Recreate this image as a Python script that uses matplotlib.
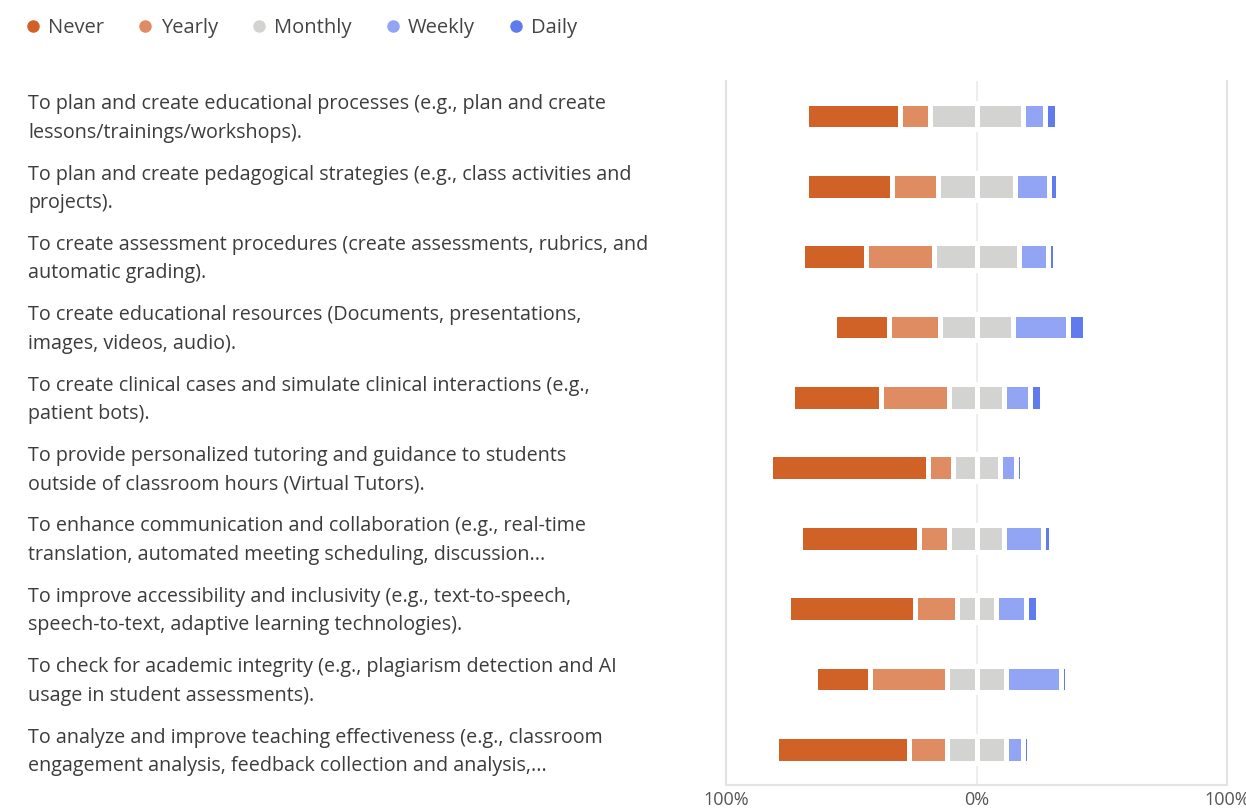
import matplotlib
matplotlib.use("Agg")
import matplotlib.pyplot as plt
from matplotlib.lines import Line2D
from matplotlib.transforms import blended_transform_factory, ScaledTranslation
import numpy as np

plt.rcParams['font.family'] = ['Open Sans', 'DejaVu Sans']

# questions (already wrapped as in the original)
questions = [
    "To plan and create educational processes (e.g., plan and create\nlessons/trainings/workshops).",
    "To plan and create pedagogical strategies (e.g., class activities and\nprojects).",
    "To create assessment procedures (create assessments, rubrics, and\nautomatic grading).",
    "To create educational resources (Documents, presentations,\nimages, videos, audio).",
    "To create clinical cases and simulate clinical interactions (e.g.,\npatient bots).",
    "To provide personalized tutoring and guidance to students\noutside of classroom hours (Virtual Tutors).",
    "To enhance communication and collaboration (e.g., real-time\ntranslation, automated meeting scheduling, discussion...",
    "To improve accessibility and inclusivity (e.g., text-to-speech,\nspeech-to-text, adaptive learning technologies).",
    "To check for academic integrity (e.g., plagiarism detection and AI\nusage in student assessments).",
    "To analyze and improve teaching effectiveness (e.g., classroom\nengagement analysis, feedback collection and analysis,...",
]

# percentages
never   = np.array([37.3, 34.1, 25.4, 22.0, 35.6, 62.8, 47.7, 50.7, 21.9, 52.8])
yearly  = np.array([12.0, 18.5, 27.1, 20.2, 27.0, 10.2, 11.7, 16.9, 30.5, 15.2])
monthly = np.array([37.4, 30.7, 34.1, 29.1, 22.2, 18.7, 22.2, 15.4, 23.8, 23.8])
weekly  = np.array([8.6, 13.7, 11.5, 22.0, 10.2, 6.6, 15.4, 12.1, 21.9, 6.6])
daily   = np.array([5.0, 3.5, 2.7, 6.6, 4.8, 2.4, 3.2, 4.7, 2.5, 2.6])

noms = ["Never", "Yearly", "Monthly", "Weekly", "Daily"]
couleurs = ["#d06228", "#e08c62", "#d3d3d1", "#92a5f5", "#5f7bee"]

W, H = 1246, 809
fig = plt.figure(figsize=(W / 100, H / 100), dpi=100)
ax = fig.add_axes([726 / W, 1 - 784.5 / H, (1227 - 726) / W, (784.5 - 80.7) / H])

y = np.arange(len(questions))
h = 0.38
kw = dict(height=h, edgecolor="white", linewidth=3.6, zorder=3)

# diverging stack : monthly split in two halves around 0
debut = -(never + yearly + monthly / 2)
ax.barh(y, never, left=debut, color=couleurs[0], **kw)
ax.barh(y, yearly, left=debut + never, color=couleurs[1], **kw)
ax.barh(y, monthly / 2, left=-monthly / 2, color=couleurs[2], **kw)
ax.barh(y, monthly / 2, left=0, color=couleurs[2], **kw)
ax.barh(y, weekly, left=monthly / 2, color=couleurs[3], **kw)
ax.barh(y, daily, left=monthly / 2 + weekly, color=couleurs[4], **kw)

ax.set_xlim(-100, 100)
ax.set_ylim(len(questions) - 0.5, -0.5)
ax.axvline(0, color="#ededed", lw=1.5, zorder=1)

ax.set_yticks([])
ax.set_xticks([-100, 0, 100])
ax.set_xticklabels(["100%", "0%", "100%"])
ax.tick_params(axis="x", length=0, pad=5, labelsize=13, labelcolor="#555555")

ax.spines["top"].set_visible(False)
for s in ["left", "right", "bottom"]:
    ax.spines[s].set_color("#e3e3e3")
    ax.spines[s].set_linewidth(1.5)

# question texts on the left
trans = blended_transform_factory(fig.transFigure, ax.transData) + \
    ScaledTranslation(0, -2.5 / 100, fig.dpi_scale_trans)
for i, q in enumerate(questions):
    ax.text(28 / W, i, q, transform=trans, ha="left", va="center",
            fontsize=14.2, color="#3c3c3c", linespacing=1.56)

# legend
poignees = [Line2D([], [], marker="o", linestyle="", markersize=8, color=c) for c in couleurs]
fig.legend(poignees, noms, loc="upper left", bbox_to_anchor=(20 / W, 1 - 12 / H), ncol=5,
           frameon=False, fontsize=14.5, handlelength=0.7, handletextpad=0.4,
           columnspacing=1.7, labelcolor="#444444", borderaxespad=0, borderpad=0.3)

fig.savefig("out.png", dpi=100)
